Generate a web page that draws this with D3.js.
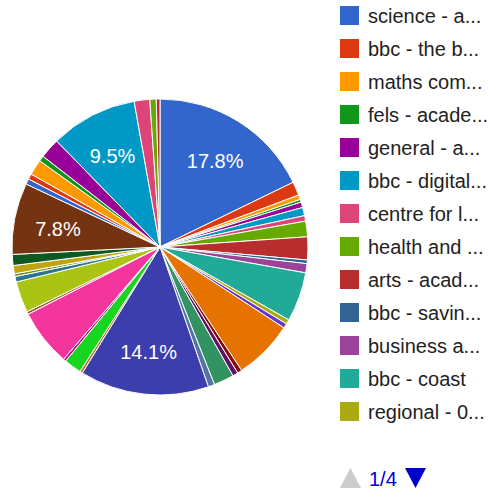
<!DOCTYPE html>
<html>
<head>
<meta charset="utf-8">
<script src="https://cdn.jsdelivr.net/npm/d3@7"></script>
<style>
  body { margin: 0; background: #fff; }
  text { font-family: Arial, 'Liberation Sans', sans-serif; }
</style>
</head>
<body>
<div id="pie"></div>
<script>
// pie chart with paged legend

const categories = [
  'science - a...', 'bbc - the b...', 'maths com...', 'fels - acade...',
  'general - a...', 'bbc - digital...', 'centre for l...', 'health and ...',
  'arts - acad...', 'bbc - savin...', 'business a...', 'bbc - coast',
  'regional - 0...',
  'item 14', 'item 15', 'item 16', 'item 17', 'item 18', 'item 19', 'item 20',
  'item 21', 'item 22', 'item 23', 'item 24', 'item 25', 'item 26', 'item 27',
  'item 28', 'item 29', 'item 30', 'item 31', 'item 32', 'item 33', 'item 34',
  'item 35', 'item 36', 'item 37', 'item 38', 'item 39', 'item 40'
]

// share of each slice (percent)
const values = [
  17.8, 1.5, 0.5, 0.3, 0.6, 0.9, 0.6, 1.7, 2.5, 0.4,
  1.0, 5.4, 0.5, 0.5, 6.5, 0.5, 0.6, 2.2, 0.7, 14.1,
  0.3, 1.9, 0.3, 6.2, 0.3, 3.4, 0.6, 0.3, 0.9, 1.2,
  7.8, 0.6, 0.6, 1.7, 0.6, 2.2, 9.5, 1.7, 0.7, 0.4
]

const pageInfo = '1/4'
const perPage = 13

const palette = [
  '#3366cc', '#dc3912', '#ff9900', '#109618', '#990099', '#0099c6', '#dd4477',
  '#66aa00', '#b82e2e', '#316395', '#994499', '#22aa99', '#aaaa11', '#6633cc',
  '#e67300', '#8b0707', '#651067', '#329262', '#5574a6', '#3b3eac', '#b77322',
  '#16d620', '#b91383', '#f4359e', '#9c5935', '#a9c413', '#2a778d', '#668d1c',
  '#bea413', '#0c5922', '#743411'
]

const width = 488
const height = 491
const cx = 160
const cy = 247
const radius = 148

const data = categories.map((c, i) => ({ name: c, value: values[i] }))
const total = d3.sum(values)

const color = d3.scaleOrdinal().domain(categories).range(palette)

const svg = d3.select('#pie').append('svg')
  .attr('width', width)
  .attr('height', height)

const pieg = svg.append('g').attr('transform', 'translate(' + cx + ',' + cy + ')')

const pie = d3.pie().sort(null).value(d => d.value)
const arc = d3.arc().innerRadius(0).outerRadius(radius)
const labelArc = d3.arc().innerRadius(104).outerRadius(104)

const arcs = pie(data)

pieg.selectAll('path')
  .data(arcs)
  .join('path')
  .attr('d', arc)
  .attr('fill', d => color(d.data.name))
  .attr('stroke', '#fff')
  .attr('stroke-width', 1)

// only the bigger slices get a label
pieg.selectAll('text')
  .data(arcs.filter(d => d.data.value / total > 0.07))
  .join('text')
  .attr('transform', d => 'translate(' + labelArc.centroid(d) + ')')
  .attr('text-anchor', 'middle')
  .attr('dy', '0.45em')
  .attr('fill', '#fff')
  .style('font-size', '20px')
  .text(d => (d.data.value / total * 100).toFixed(1) + '%')

// legend
const lg = svg.append('g').attr('class', 'legend')
const rowY = d3.scaleBand()
  .domain(d3.range(perPage))
  .range([0, perPage * 33])

const rows = lg.selectAll('g')
  .data(data.slice(0, perPage))
  .join('g')
  .attr('transform', (d, i) => 'translate(340,' + rowY(i) + ')')

rows.append('rect')
  .attr('x', 0)
  .attr('y', 6)
  .attr('width', 19)
  .attr('height', 19)
  .attr('fill', d => color(d.name))

rows.append('text')
  .attr('x', 28)
  .attr('y', 16)
  .attr('dy', '0.36em')
  .attr('fill', '#222')
  .style('font-size', '20px')
  .text(d => d.name)

// pager
const pg = svg.append('g').attr('transform', 'translate(340,468)')
pg.append('path')
  .attr('d', 'M0,20L10.5,0L21,20Z')
  .attr('fill', '#ccc')
pg.append('text')
  .attr('x', 29)
  .attr('y', 18)
  .attr('fill', '#0000cc')
  .style('font-size', '20px')
  .text(pageInfo)
pg.append('path')
  .attr('d', 'M65,0L86,0L75.5,20Z')
  .attr('fill', '#0000cc')
</script>
</body>
</html>
